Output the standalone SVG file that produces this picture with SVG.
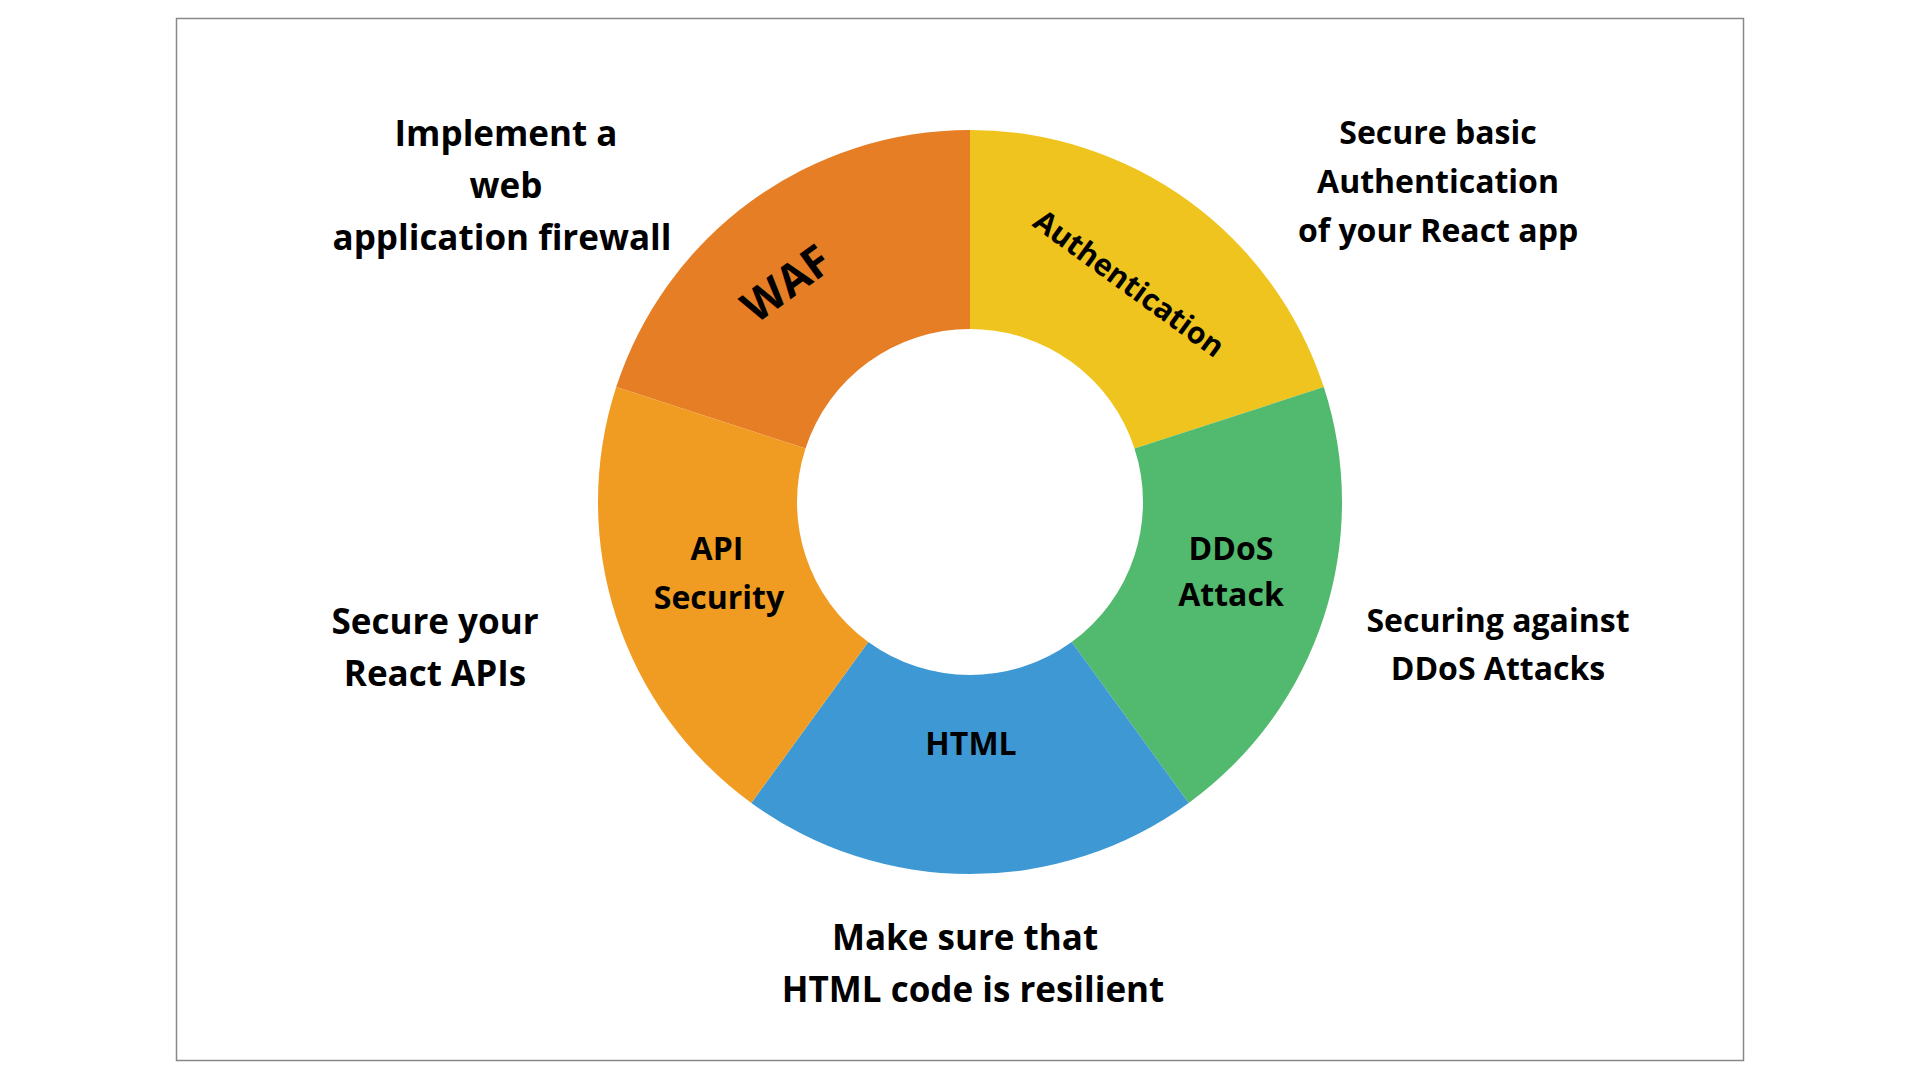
<svg xmlns="http://www.w3.org/2000/svg" width="1920" height="1080" viewBox="0 0 1920 1080">
<style>
text{font-family:"Open Sans","Noto Sans","Liberation Sans",sans-serif;font-weight:bold;fill:#000;text-anchor:middle}
.d{font-size:35px}
.s{font-size:32px}
</style>
<rect width="1920" height="1080" fill="#fff"/>
<rect x="176.5" y="18.5" width="1567" height="1042" fill="none" stroke="#888" stroke-width="1.5"/>
<g id="waf"><path d="M616.2,387.1 A372,372 0 0 1 970,130 L970,329 A173,173 0 0 0 805.5,448.5 Z" fill="#E67E25"/>
<text transform="translate(795,296) rotate(-36)" font-size="44">WAF</text></g>
<g id="auth"><path d="M970,130 A372,372 0 0 1 1323.8,387.1 L1134.5,448.5 A173,173 0 0 0 970,329 Z" fill="#EFC41E"/>
<text transform="translate(1123,292) rotate(36)" font-size="30">Authentication</text></g>
<g id="ddos"><path d="M1323.8,387.1 A372,372 0 0 1 1188.7,803 L1071.7,642 A173,173 0 0 0 1134.5,448.5 Z" fill="#52BA6E"/>
<text class="s" x="1231" y="560">DDoS</text><text class="s" x="1231" y="606">Attack</text></g>
<g id="html"><path d="M1188.7,803 A372,372 0 0 1 751.3,803 L868.3,642 A173,173 0 0 0 1071.7,642 Z" fill="#3D98D3"/>
<text class="s" x="971" y="755">HTML</text></g>
<g id="api"><path d="M751.3,803 A372,372 0 0 1 616.2,387.1 L805.5,448.5 A173,173 0 0 0 868.3,642 Z" fill="#F09C22"/>
<text class="s" x="717" y="560">API</text><text class="s" x="719" y="609">Security</text></g>
<g id="labels">
<text class="d" x="506" y="146">Implement a</text><text class="d" x="506" y="198">web</text><text class="d" x="502" y="250">application firewall</text>
<text class="s" x="1438" y="144">Secure basic</text><text class="s" x="1438" y="193">Authentication</text><text class="s" x="1438" y="242">of your React app</text>
<text class="d" x="435" y="634">Secure your</text><text class="d" x="435" y="686">React APIs</text>
<text class="s" x="1498" y="632">Securing against</text><text class="s" x="1498" y="680">DDoS Attacks</text>
<text class="d" x="965" y="950">Make sure that</text><text class="d" x="973" y="1002">HTML code is resilient</text>
</g>
<g id="connectors"/>
</svg>
